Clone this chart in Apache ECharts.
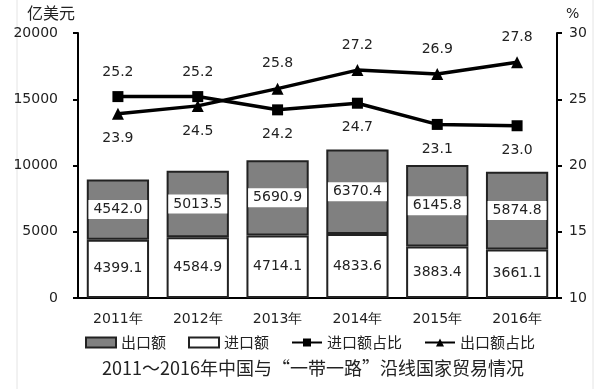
<!DOCTYPE html>
<html><head><meta charset="utf-8">
<script src="https://cdn.jsdelivr.net/npm/echarts@6/dist/echarts.min.js"></script>
<style>html,body{margin:0;padding:0;background:#fff}#c{width:603px;height:389px}</style>
</head><body><div id="c"></div>
<script>
const categories = ['2011年','2012年','2013年','2014年','2015年','2016年'];
const importValues = [4399.1, 4584.9, 4714.1, 4833.6, 3883.4, 3661.1];
const exportValues = [4542.0, 5013.5, 5690.9, 6370.4, 6145.8, 5874.8];
const importShare = [25.2, 25.2, 24.2, 24.7, 23.1, 23.0];
const exportShare = [23.9, 24.5, 25.8, 27.2, 26.9, 27.8];
const leftTicks = [0, 5000, 10000, 15000, 20000];
const rightTicks = [10, 15, 20, 25, 30];

const FONT = 'DejaVu Sans';
const CJK = 'Noto Sans CJK SC';
function lineData(vals, other) {
  return vals.map((v, i) => ({
    value: v,
    label: { position: v >= other[i] ? 'top' : 'bottom' }
  }));
}
const chart = echarts.init(document.getElementById('c'));
chart.setOption({
  animation: false,
  backgroundColor: '#fff',
  textStyle: { fontFamily: FONT },
  grid: { left: 78, right: 46, top: 33, bottom: 91 },
  graphic: [
    { type: 'text', left: 27, top: 5, style: { text: '亿美元', font: '16px ' + CJK, fill: '#222' } },
    { type: 'text', left: 566, top: 7, style: { text: '%', font: '14px ' + FONT, fill: '#222' } },
    { type: 'line', shape: { x1: 17, y1: 0, x2: 17, y2: 389 }, style: { stroke: '#e4e4e4', lineWidth: 1 } },
    { type: 'line', shape: { x1: 593, y1: 0, x2: 593, y2: 389 }, style: { stroke: '#e4e4e4', lineWidth: 1 } },
    { type: 'text', left: 102, top: 359, style: { text: '2011～2016年中国与“一带一路”沿线国家贸易情况', font: '18px ' + CJK, fill: '#222' } }
  ],
  legend: {
    top: 330, left: 80,
    itemWidth: 30, itemHeight: 10, itemGap: 22,
    textStyle: { fontFamily: CJK, fontSize: 15, color: '#222' },
    data: [
      { name: '出口额', icon: 'rect' },
      { name: '进口额', icon: 'rect' },
      '进口额占比', '出口额占比'
    ]
  },
  xAxis: {
    type: 'category', data: categories,
    axisLine: { lineStyle: { color: '#000', width: 2 } },
    axisTick: { show: false },
    axisLabel: { color: '#222', fontSize: 14, fontFamily: FONT, margin: 14 }
  },
  yAxis: [
    { type: 'value', min: leftTicks[0], max: leftTicks[leftTicks.length - 1], interval: 5000,
      axisLine: { show: true, lineStyle: { color: '#000', width: 2 } },
      axisTick: { show: true, length: 5, lineStyle: { color: '#000', width: 2 } },
      splitLine: { show: false },
      axisLabel: { color: '#222', fontSize: 14, fontFamily: FONT, margin: 20, formatter: v => String(v) } },
    { type: 'value', min: rightTicks[0], max: rightTicks[rightTicks.length - 1], interval: 5,
      axisLine: { show: true, lineStyle: { color: '#000', width: 2 } },
      axisTick: { show: true, length: 5, lineStyle: { color: '#000', width: 2 } },
      splitLine: { show: false },
      axisLabel: { color: '#222', fontSize: 14, fontFamily: FONT, margin: 12, formatter: v => String(v) } }
  ],
  series: [
    { name: '进口额', type: 'bar', stack: 'a', data: importValues, barWidth: '78%',
      itemStyle: { color: '#fff', borderColor: '#222', borderWidth: 2, borderRadius: 0, borderJoin: 'miter' },
      label: { show: true, position: 'inside', color: '#222', fontSize: 14, fontFamily: FONT,
        formatter: p => p.value.toFixed(1) } },
    { name: '出口额', type: 'bar', stack: 'a', data: exportValues, barWidth: '78%',
      itemStyle: { color: '#808080', borderColor: '#222', borderWidth: 2, borderRadius: 0, borderJoin: 'miter' },
      label: { show: true, position: 'inside', color: '#222', fontSize: 14, fontFamily: FONT,
        backgroundColor: '#fff', padding: [3, 5, 2, 5],
        formatter: p => p.value.toFixed(1) } },
    { name: '进口额占比', type: 'line', yAxisIndex: 1, data: lineData(importShare, exportShare),
      symbol: 'rect', symbolSize: 11,
      lineStyle: { color: '#000', width: 3.5 }, itemStyle: { color: '#000' },
      label: { show: true, distance: 12, color: '#222', fontSize: 14, fontFamily: FONT,
        formatter: p => p.value.toFixed(1) } },
    { name: '出口额占比', type: 'line', yAxisIndex: 1, data: lineData(exportShare, importShare),
      symbol: 'triangle', symbolSize: 12,
      lineStyle: { color: '#000', width: 3.5 }, itemStyle: { color: '#000' },
      label: { show: true, distance: 12, color: '#222', fontSize: 14, fontFamily: FONT,
        formatter: p => p.value.toFixed(1) } }
  ]
});
</script></body></html>
